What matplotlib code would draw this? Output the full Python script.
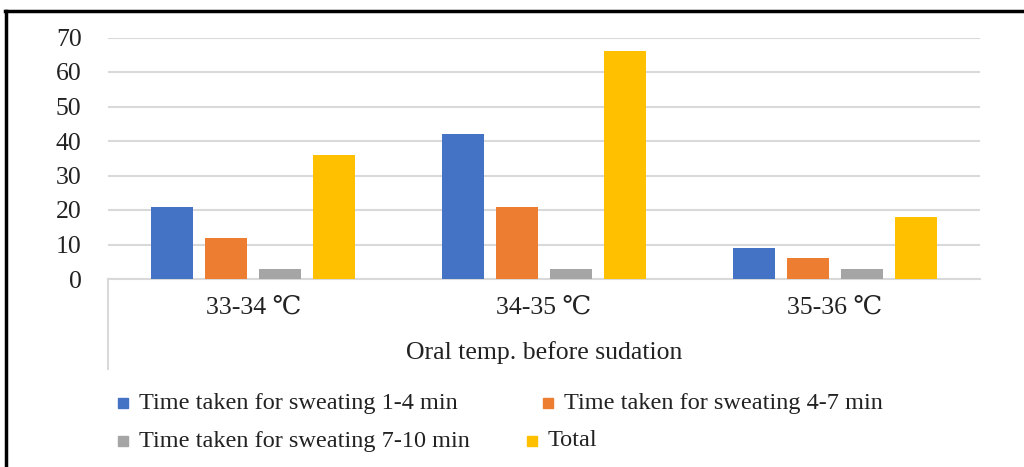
import matplotlib
matplotlib.use('Agg')
import numpy as np
import matplotlib.pyplot as plt
from matplotlib.lines import Line2D
from matplotlib.patches import Rectangle

plt.rcParams['font.family'] = ['Liberation Serif', 'DejaVu Serif']

categories = ['33-34 \u2103', '34-35 \u2103', '35-36 \u2103']
series_names = ['Time taken for sweating 1-4 min', 'Time taken for sweating 4-7 min',
                'Time taken for sweating 7-10 min', 'Total']
sweat_1_4 = [21, 42, 9]
sweat_4_7 = [12, 21, 6]
sweat_7_10 = [3, 3, 3]
total = [36, 66, 18]
y_ticks = [0, 10, 20, 30, 40, 50, 60, 70]
x_title = 'Oral temp. before sudation'

colors = ['#4472C4', '#ED7D31', '#A5A5A5', '#FFC000']
W, H = 1024, 467

fig = plt.figure(figsize=(W / 100, H / 100), dpi=100)
fig.patch.set_facecolor('white')

# plot area in pixel terms
left, right, top, bottom = 108, 980, 37.5, 279
ax = fig.add_axes([left / W, 1 - bottom / H, (right - left) / W, (bottom - top) / H])

x = np.arange(len(categories))
bw = 0.1445
step = 0.186
for i, vals in enumerate([sweat_1_4, sweat_4_7, sweat_7_10, total]):
    ax.bar(x + (i - 1.5) * step, vals, width=bw, color=colors[i], zorder=3)

ax.set_xlim(-0.5, len(categories) - 0.5)
ax.set_ylim(0, 70)
ax.set_yticks(y_ticks)
ax.set_yticklabels([str(v) for v in y_ticks], fontsize=18.5, color='#222222')
ax.set_xticks(x)
ax.set_xticklabels(categories, fontsize=18.5, color='#222222')
ax.tick_params(axis='y', length=0, pad=19)
ax.tick_params(axis='x', length=0, pad=13)
ax.yaxis.grid(True, color='#D9D9D9', linewidth=1.5, zorder=0)
for s in ['top', 'right', 'left']:
    ax.spines[s].set_visible(False)
ax.spines['bottom'].set_color('#D9D9D9')
ax.spines['bottom'].set_linewidth(1.5)
ax.set_axisbelow(True)

# category axis box edge and title
fig.add_artist(Line2D([left / W, left / W], [1 - bottom / H, 1 - 369 / H],
                      color='#D9D9D9', linewidth=1.5))
fig.text((left + right) / 2 / W, 1 - 353 / H, x_title, fontsize=18.5,
         color='#222222', ha='center', va='center')

# legend, two rows
legend_pos = [(118, 403), (543, 403), (118, 441), (527, 441)]
for name, c, (px, py) in zip(series_names, colors, legend_pos):
    fig.add_artist(Rectangle((px / W, 1 - (py + 5) / H), 10 / W, 10 / H,
                             color=c, transform=fig.transFigure))
    fig.text((px + 21) / W, 1 - py / H, name, fontsize=17.5, color='#222222',
             ha='left', va='center')

# outer frame
fig.add_artist(Line2D([5 / W, 1.0], [1 - 11 / H, 1 - 11 / H], color='black', linewidth=2.5))
fig.add_artist(Line2D([6 / W, 6 / W], [1 - 11 / H, 0.0], color='black', linewidth=2.5))

fig.savefig('out.png', dpi=100)
